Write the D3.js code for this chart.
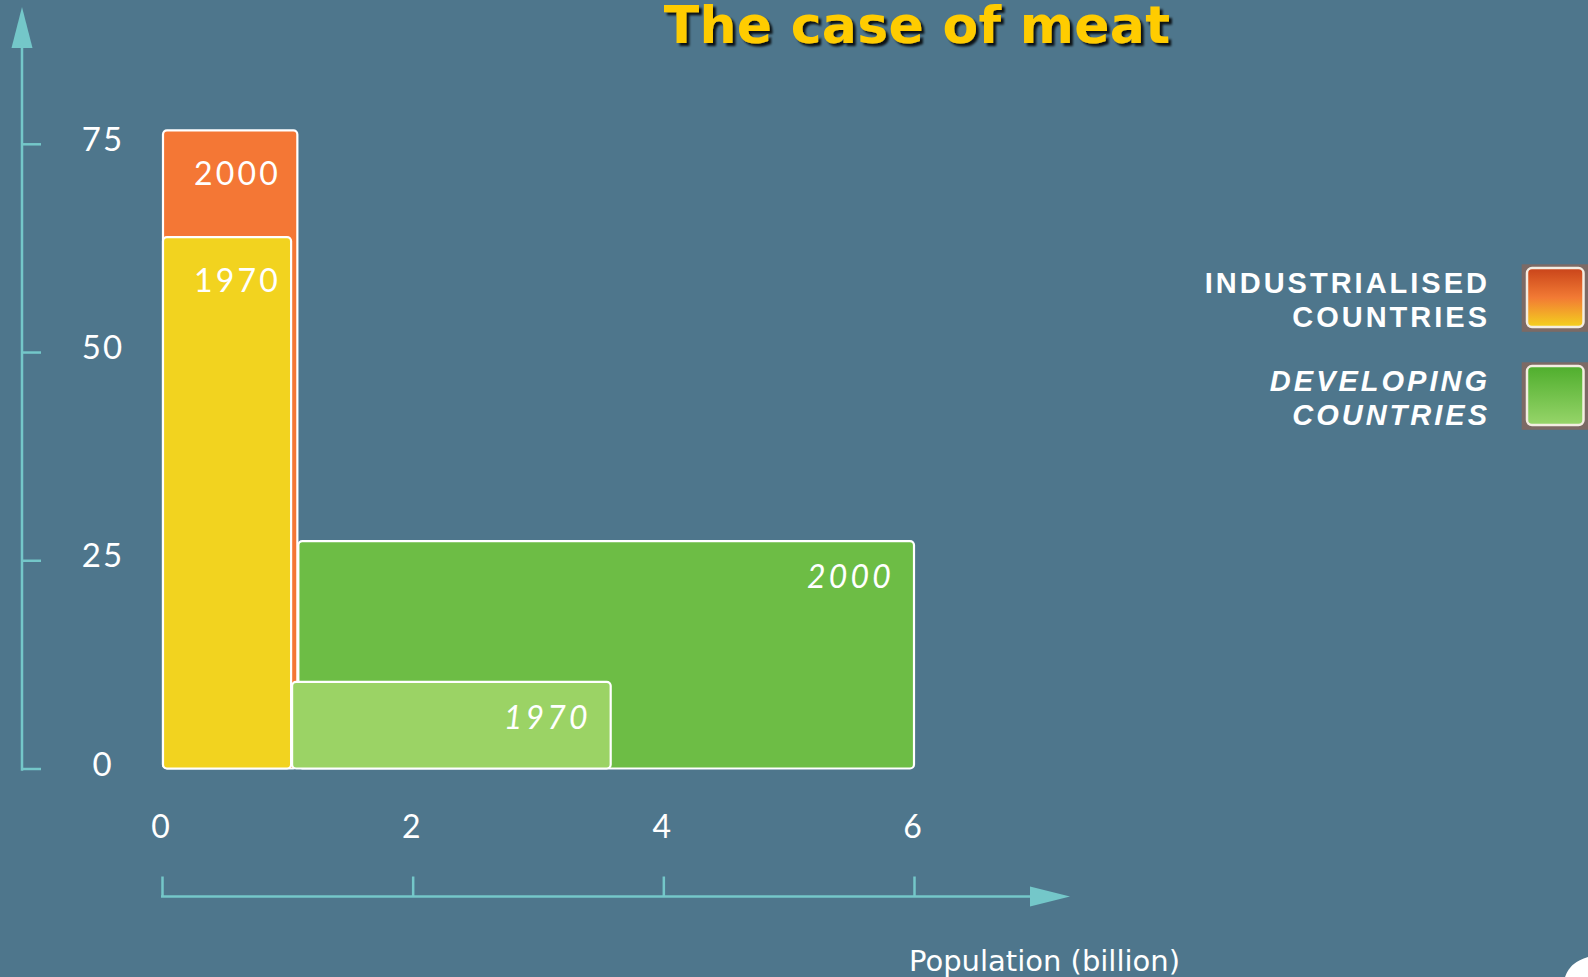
<!DOCTYPE html>
<html><head><meta charset="utf-8">
<script src="https://cdn.jsdelivr.net/npm/d3@7"></script>
<style>html,body{margin:0;padding:0;background:#4E768C;overflow:hidden}svg{display:block}</style>
</head><body><svg id="chart" width="1588" height="977"></svg>
<script>
// ---- data ----
const years = ["1970", "2000"];
const groups = ["INDUSTRIALISED COUNTRIES", "DEVELOPING COUNTRIES"];
const industrialisedPopulation = [1.03, 1.08];   // billion, 1970 / 2000
const industrialisedMeat = [63.8, 76.6];          // kg per capita
const developingPopulation = [2.55, 4.92];
const developingMeat = [10.4, 27.3];
const xTickValues = [0, 2, 4, 6];
const yTickValues = [0, 25, 50, 75];
const chartTitle = "The case of meat";
const xAxisTitle = "Population (billion)";
const legendLines = [["INDUSTRIALISED", "COUNTRIES"], ["DEVELOPING", "COUNTRIES"]];

// ---- setup ----
const svg = d3.select("#chart");
const W = 1588, H = 977;
const axisColor = "#74C7C9";
const x = d3.scaleLinear().domain([0, 6]).range([162, 914]);
const y = d3.scaleLinear().domain([0, 75]).range([768.5, 143.8]);

svg.append("rect").attr("width", W).attr("height", H).attr("fill", "#4E768C");

const defs = svg.append("defs");
const shadow = defs.append("filter").attr("id", "tshadow").attr("x", "-10%").attr("y", "-30%").attr("width", "130%").attr("height", "170%");
shadow.append("feDropShadow").attr("dx", 3).attr("dy", 3).attr("stdDeviation", 1.2).attr("flood-color", "#000").attr("flood-opacity", 0.85);

const gOrange = defs.append("linearGradient").attr("id", "gOrange").attr("x1", 0).attr("y1", 0).attr("x2", 0).attr("y2", 1);
gOrange.append("stop").attr("offset", "0%").attr("stop-color", "#C9441A");
gOrange.append("stop").attr("offset", "50%").attr("stop-color", "#F27A34");
gOrange.append("stop").attr("offset", "100%").attr("stop-color", "#F4D21E");
const gGreen = defs.append("linearGradient").attr("id", "gGreen").attr("x1", 0).attr("y1", 0).attr("x2", 0).attr("y2", 1);
gGreen.append("stop").attr("offset", "0%").attr("stop-color", "#4FAE2D");
gGreen.append("stop").attr("offset", "100%").attr("stop-color", "#97D56A");

// ---- title ----
svg.append("text").attr("x", 917).attr("y", 43).attr("text-anchor", "middle")
  .attr("font-family", "'DejaVu Sans', Verdana, sans-serif").attr("font-weight", "bold")
  .attr("font-size", 52).attr("letter-spacing", 0.3).attr("fill", "#FFCC00")
  .attr("filter", "url(#tshadow)").text(chartTitle);

// ---- bars ----
const bars = [
  {x0: 0, pop: industrialisedPopulation[1], v: industrialisedMeat[1], fill: "#F47735", label: years[1], italic: false},
  {x0: 0, pop: industrialisedPopulation[0], v: industrialisedMeat[0], fill: "#F2D31F", label: years[0], italic: false},
  {x0: industrialisedPopulation[1], pop: developingPopulation[1], v: developingMeat[1], fill: "#6DBD45", label: years[1], italic: true},
  {x0: industrialisedPopulation[0], pop: developingPopulation[0], v: developingMeat[0], fill: "#9BD365", label: years[0], italic: true}
];
const gb = svg.append("g");
bars.forEach(b => {
  const x0 = x(b.x0), x1 = x(b.x0 + b.pop), yt = y(b.v), yb = y(0);
  gb.append("rect").attr("x", x0 + 1).attr("y", yt).attr("width", x1 - x0 - 1).attr("height", yb - yt)
    .attr("rx", 4).attr("fill", b.fill).attr("stroke", "#fff").attr("stroke-width", 2.2);
  const t = gb.append("text").attr("fill", "#fff")
    .attr("font-family", "Lato, 'Open Sans', sans-serif").attr("font-size", 32)
    .attr("letter-spacing", 3.2).text(b.label);
  if (b.italic) {
    t.attr("font-style", "italic").attr("text-anchor", "end").attr("x", x1 - 20).attr("y", yt + 47);
  } else {
    t.attr("text-anchor", "start").attr("x", x(0) + 32).attr("y", yt + 55);
  }
});

// ---- y axis ----
const yAxis = d3.axisRight(y).tickValues(yTickValues).tickSize(19).tickSizeOuter(0).tickPadding(0);
const gy = svg.append("g").attr("transform", "translate(22,0)").call(yAxis);
gy.select(".domain").remove();
gy.selectAll(".tick line").attr("stroke", axisColor).attr("stroke-width", 2.5);
gy.selectAll(".tick text").attr("x", 81).attr("dy", "0.32em").attr("y", -4).attr("text-anchor", "middle")
  .attr("fill", "#fff").attr("font-family", "Lato, 'Open Sans', sans-serif").attr("font-size", 33).attr("letter-spacing", 2);
svg.append("line").attr("x1", 22).attr("x2", 22).attr("y1", 40).attr("y2", y(0) + 2.2)
  .attr("stroke", axisColor).attr("stroke-width", 2.5);
svg.append("path").attr("d", "M22,7 L32.5,48 L11.5,48 Z").attr("fill", axisColor);

// ---- x axis ----
const axisY = 896.5;
const xAxis = d3.axisTop(x).tickValues(xTickValues).tickFormat(d3.format("d"))
  .tickSize(20).tickSizeOuter(0).tickPadding(39);
const gx = svg.append("g").attr("transform", `translate(0,${axisY})`).call(xAxis);
gx.select(".domain").remove();
gx.selectAll(".tick line").attr("stroke", axisColor).attr("stroke-width", 2.5);
gx.selectAll(".tick text").attr("fill", "#fff")
  .attr("font-family", "Lato, 'Open Sans', sans-serif")
  .attr("font-size", 32).attr("dx", -2);
svg.append("line").attr("x1", x(0) - 1).attr("x2", 1035).attr("y1", axisY).attr("y2", axisY)
  .attr("stroke", axisColor).attr("stroke-width", 2.5);
svg.append("path").attr("d", `M1070,${axisY} L1030,${axisY - 10} L1030,${axisY + 10} Z`).attr("fill", axisColor);
svg.append("text").attr("x", 909).attr("y", 971).attr("text-anchor", "start").attr("fill", "#fff")
  .attr("font-family", "'DejaVu Sans', Verdana, sans-serif")
  .attr("font-size", 29).text(xAxisTitle);

// ---- legend ----
const legendTop = [264.3, 362.3];
const swatchFill = ["url(#gOrange)", "url(#gGreen)"];
legendLines.forEach((lines, i) => {
  const g = svg.append("g");
  lines.forEach((ln, j) => {
    g.append("text").attr("x", 1490).attr("y", legendTop[i] + 28.5 + j * 34)
      .attr("text-anchor", "end").attr("fill", "#fff")
      .attr("font-family", "Liberation Sans, Arial, sans-serif").attr("font-weight", "bold")
      .attr("font-style", i === 1 ? "italic" : "normal")
      .attr("font-size", 29).attr("letter-spacing", 3).text(ln);
  });
  g.append("rect").attr("x", 1521.7).attr("y", legendTop[i]).attr("width", 70).attr("height", 67.5)
    .attr("fill", "#7C6A65");
  g.append("rect").attr("x", 1527).attr("y", legendTop[i] + 3.8).attr("width", 56.5).attr("height", 59)
    .attr("rx", 5).attr("fill", swatchFill[i]).attr("stroke", "#F3EDE2").attr("stroke-width", 2.5);
});

// ---- corner decoration ----
svg.append("path").attr("d", "M1565,977 Q1570,962 1588,957 L1588,977 Z").attr("fill", "#fff");
</script></body></html>
